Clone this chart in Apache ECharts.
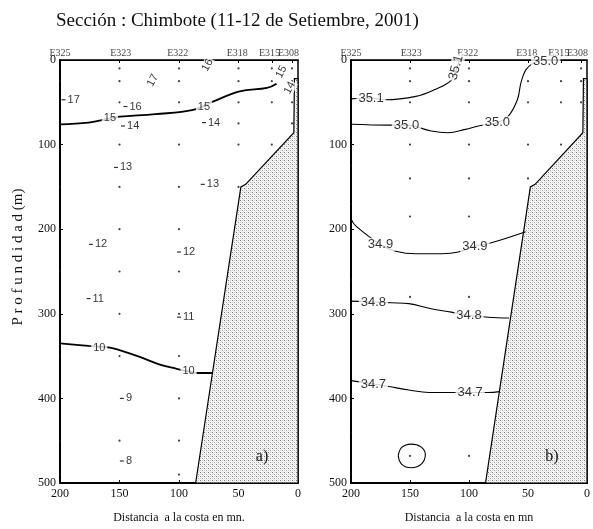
<!DOCTYPE html>
<html>
<head>
<meta charset="utf-8">
<script src="https://cdn.jsdelivr.net/npm/echarts@6/dist/echarts.min.js"></script>
<style>
html,body{margin:0;padding:0;background:#fff;}
#chart{width:593px;height:529px;}
</style>
</head>
<body>
<div id="chart"></div>
<script>
// Stations along the Chimbote section (distance to coast in nautical miles)
const stationNames = ['E325', 'E323', 'E322', 'E318', 'E315', 'E308'];
const stationNm = [200, 150, 100, 50, 22, 5];
const stationLabelNm = [200, 149, 101, 51, 24, 8];

// Sampling depths (m) per station
const tempDepths = [
  [10, 25, 100, 150, 200, 250, 300, 350, 400, 450, 490],
  [10, 25, 50, 100, 150, 200, 250, 300, 350, 450],
  [10, 25, 50, 100, 150, 200, 250, 300, 350, 400, 450, 490],
  [10, 25, 50, 75, 100, 150],
  [10, 25, 50, 100],
  [10, 25, 50, 75]
];
const salDepths = [
  [10, 25, 50, 100, 125, 170, 260, 440],
  [10, 25, 50, 100, 140, 185, 280, 468],
  [10, 25, 50, 100, 140, 185, 280, 468],
  [25, 50, 100, 140],
  [25, 50, 100],
  [10, 25, 50]
];

// Sea floor profile [nm, depth]
const seaFloor = [[86, 500], [48, 150], [44, 147], [3.5, 86], [3, 22], [0, 22], [0, 500]];

// Temperature isotherms (°C) [nm, depth]
const iso15 = [[200, 76], [176, 74], [158, 69], [150, 67], [120, 64], [88, 59], [71, 49], [49, 37], [26, 33], [18, 28]];
const iso10 = [[200, 335], [176, 338], [158, 340], [150, 343], [133, 351], [116, 360], [102, 365], [92, 368], [84, 370], [72, 370]];

// Temperature labels: small tick + value, on-line labels, slanted labels
const tempTickLabels = [
  [197, 47, '17'], [145, 55, '16'], [147, 78, '14'], [79, 74, '14'],
  [153, 127, '13'], [80, 147, '13'], [174, 218, '12'], [100, 227, '12'],
  [176, 282, '11'], [100, 304, '11'], [148, 400, '9'], [148, 474, '8']
];
const tempLineLabels = [[158, 68, '15'], [79, 55, '15'], [167, 340, '10'], [92, 368, '10']];
const tempSlantLabels = [[122, 24, '17'], [76, 6, '16'], [14, 14, '15'], [7, 33, '14']];

// Salinity isohalines (ups) [nm, depth]
const iso351 = [[200, 46], [183, 45], [171, 47], [145, 43], [129, 35], [115, 24], [111, 12], [108, 0]];
const iso350 = [[200, 76], [168, 77], [153, 77], [132, 84], [118, 86], [103, 82], [92, 78], [76, 74], [67, 67], [59, 47], [56, 27], [52, 12], [46, 4], [40, 1]];
const iso349 = [[200, 188], [196, 196], [175, 218], [162, 226], [145, 229], [123, 229], [109, 227], [95, 220], [81, 216], [52, 203]];
const iso348 = [[200, 285], [181, 286], [166, 287], [151, 288], [132, 294], [115, 298], [100, 302], [84, 304], [66, 305]];
const iso347 = [[200, 379], [181, 383], [168, 386], [151, 390], [134, 393], [115, 393], [99, 393], [84, 393], [74, 392]];
const iso347Ring = [[160, 468], [157, 458], [149, 454], [141, 457], [137, 466], [140, 477], [149, 482], [157, 478], [160, 468]];

const salLineLabels = [
  [183, 45, '35.1'], [153, 77, '35.0'], [76, 74, '35.0'], [35, 2, '35.0'],
  [175, 218, '34.9'], [95, 220, '34.9'], [181, 286, '34.8'], [100, 302, '34.8'],
  [181, 383, '34.7'], [99, 393, '34.7']
];
const salSlantLabels = [[111, 9, '35.1']];

const depthInterval = 100;
const distInterval = 50;

const serif = 'Liberation Serif, DejaVu Serif, serif';
const sans = 'Liberation Sans, Arial, sans-serif';

// stipple pattern for the sea floor
const tile = document.createElement('canvas');
tile.width = 4; tile.height = 4;
(function () {
  const g = tile.getContext('2d');
  g.fillStyle = '#f7f7f7'; g.fillRect(0, 0, 4, 4);
  g.fillStyle = '#7c7c7c'; g.fillRect(0, 0, 1, 1);
  g.fillStyle = '#a6a6a6'; g.fillRect(2, 2, 1, 1);
  g.fillStyle = '#d2d2d2'; g.fillRect(2, 0, 1, 1); g.fillRect(0, 2, 1, 1);
  g.fillStyle = '#e4e4e4'; g.fillRect(1, 1, 1, 1); g.fillRect(3, 3, 1, 1);
})();

const chart = echarts.init(document.getElementById('chart'), null, { renderer: 'canvas' });

const grids = [
  { left: 60, top: 60, width: 238, height: 425 },
  { left: 351, top: 60, width: 238, height: 425 }
].map(g => Object.assign(g, { show: true, borderColor: '#000', borderWidth: 1.5, backgroundColor: 'transparent' }));

function bottomAxis(i, name) {
  return {
    type: 'value', gridIndex: i, min: 0, max: 200, interval: distInterval, inverse: true,
    axisLine: { onZero: false, lineStyle: { color: '#000', width: 2 } },
    axisTick: { inside: true, length: 3, lineStyle: { color: '#000' } },
    splitLine: { show: false },
    axisLabel: { fontFamily: serif, fontSize: 12, color: '#111', margin: 5 },
    name: name, nameLocation: 'middle', nameGap: 29,
    nameTextStyle: { fontFamily: serif, fontSize: 12, color: '#111' }
  };
}
function topAxis(i) {
  return {
    type: 'value', gridIndex: i, position: 'top', min: 0, max: 200, inverse: true,
    axisLine: { onZero: false, lineStyle: { color: '#000', width: 1 } },
    axisTick: { inside: true, length: 3, customValues: stationNm, lineStyle: { color: '#000' } },
    splitLine: { show: false },
    axisLabel: { show: false }
  };
}
function depthAxis(i) {
  return {
    type: 'value', gridIndex: i, min: 0, max: 500, interval: depthInterval, inverse: true,
    axisLine: { onZero: false, lineStyle: { color: '#000', width: 2 } },
    axisTick: { inside: true, length: 3, lineStyle: { color: '#000' } },
    splitLine: { show: false },
    axisLabel: { fontFamily: serif, fontSize: 12, color: '#111', margin: 4 }
  };
}

function floorSeries(i) {
  return {
    type: 'custom', xAxisIndex: i * 2, yAxisIndex: i, data: [[0, 0]], silent: true, z: 1,
    renderItem: function (params, api) {
      const pts = seaFloor.map(p => api.coord(p));
      return {
        type: 'polygon', shape: { points: pts },
        style: { fill: { image: tile, repeat: 'repeat' }, stroke: '#000', lineWidth: 1.2 }
      };
    }
  };
}
function stationDots(i, depths) {
  const pts = [];
  stationNm.forEach((nm, k) => depths[k].forEach(d => pts.push([nm, d])));
  return {
    type: 'scatter', xAxisIndex: i * 2, yAxisIndex: i, data: pts, silent: true, z: 3,
    symbol: 'circle', symbolSize: 2.2, itemStyle: { color: '#111' }
  };
}
function stationTitles(i) {
  return {
    type: 'scatter', xAxisIndex: i * 2, yAxisIndex: i, silent: true, z: 6, clip: false,
    data: stationLabelNm.map((nm, k) => ({ value: [nm, 0], name: stationNames[k] })),
    symbolSize: 0,
    label: {
      show: true, position: 'top', distance: 2, formatter: p => p.name,
      fontFamily: serif, fontSize: 10, color: '#111'
    },
    labelLayout: { hideOverlap: false }
  };
}
function contour(i, pts, width) {
  return {
    type: 'line', xAxisIndex: i * 2, yAxisIndex: i, data: pts, smooth: 0.4, showSymbol: false,
    silent: true, z: 2, lineStyle: { color: '#000', width: width }
  };
}
function textMarks(i, items, opts) {
  return Object.assign({
    type: 'scatter', xAxisIndex: i * 2, yAxisIndex: i, silent: true, z: 6,
    data: items.map(t => ({ value: [t[0], t[1]], name: t[2] })),
    symbolSize: 0
  }, opts);
}

const option = {
  animation: false,
  backgroundColor: '#fff',
  title: {
    text: 'Sección : Chimbote (11-12 de Setiembre, 2001)', left: 51, top: 7,
    textStyle: { fontFamily: serif, fontSize: 19, fontWeight: 'normal', color: '#111' }
  },
  grid: grids,
  xAxis: [bottomAxis(0, 'Distancia  a la costa en mn.'), topAxis(0), bottomAxis(1, 'Distancia  a la costa en mn'), topAxis(1)],
  yAxis: [depthAxis(0), depthAxis(1)],
  graphic: [
    {
      type: 'text', x: 18, y: 257, rotation: Math.PI / 2,
      style: { text: 'P r o f u n d i d a d (m)', fontFamily: serif, fontSize: 15, fill: '#111', align: 'center', verticalAlign: 'middle' }
    },
    { type: 'text', x: 262, y: 457, style: { text: 'a)', fontFamily: serif, fontSize: 16, fill: '#111', align: 'center', verticalAlign: 'middle' }, z: 10 },
    { type: 'text', x: 552, y: 457, style: { text: 'b)', fontFamily: serif, fontSize: 16, fill: '#111', align: 'center', verticalAlign: 'middle' }, z: 10 }
  ],
  series: [
    floorSeries(0), floorSeries(1),
    stationDots(0, tempDepths), stationDots(1, salDepths),
    stationTitles(0), stationTitles(1),
    contour(0, iso15, 1.8), contour(0, iso10, 1.8),
    contour(1, iso351, 1.1), contour(1, iso350, 1.1), contour(1, iso349, 1.1),
    contour(1, iso348, 1.1), contour(1, iso347, 1.1), contour(1, iso347Ring, 1.1),
    // ticked temperature values
    textMarks(0, tempTickLabels, {
      symbol: 'rect', symbolSize: [4, 1.2], itemStyle: { color: '#000' },
      label: { show: true, position: 'right', distance: 2, formatter: p => p.name, fontFamily: sans, fontSize: 11, color: '#000' }
    }),
    textMarks(0, tempLineLabels, {
      label: { show: true, position: 'inside', formatter: p => p.name, fontFamily: sans, fontSize: 11, color: '#000', backgroundColor: '#fff', padding: [0, 2] }
    }),
    textMarks(0, tempSlantLabels, {
      label: { show: true, position: 'inside', rotate: 62, formatter: p => p.name, fontFamily: sans, fontSize: 11, color: '#000', backgroundColor: '#fff', padding: [0, 1] }
    }),
    textMarks(1, salLineLabels, {
      label: { show: true, position: 'inside', formatter: p => p.name, fontFamily: sans, fontSize: 13, color: '#000', backgroundColor: '#fff', padding: [0, 2] }
    }),
    textMarks(1, salSlantLabels, {
      label: { show: true, position: 'inside', rotate: 75, formatter: p => p.name, fontFamily: sans, fontSize: 13, color: '#000', backgroundColor: '#fff', padding: [0, 1] }
    })
  ]
};
chart.setOption(option);
</script>
</body>
</html>
